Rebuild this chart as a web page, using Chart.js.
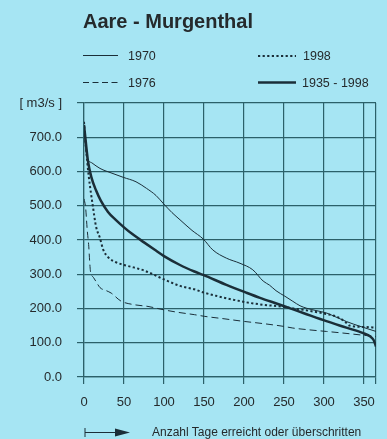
<!DOCTYPE html>
<html>
<head>
<meta charset="utf-8">
<script src="https://cdn.jsdelivr.net/npm/chart.js@4/dist/chart.umd.min.js"></script>
<style>
  html, body { margin: 0; padding: 0; }
  body { width: 387px; height: 439px; background: #a6e5f3; position: relative; overflow: hidden;
         font-family: "Liberation Sans", Arial, sans-serif; color: #252a2c; }
  #c { position: absolute; left: 0; top: 0; }
  .t { position: absolute; white-space: nowrap; }
  #title { left: 83px; top: 11px; font-size: 20px; line-height: 20px; font-weight: bold; }
  .lg { font-size: 12.5px; line-height: 12.5px; }
  #cap { left: 152px; top: 426px; font-size: 12px; line-height: 12px; }
  svg { position: absolute; left: 0; top: 0; }
</style>
</head>
<body>
<canvas id="c" width="387" height="439"></canvas>
<div class="t" id="title">Aare - Murgenthal</div>
<div class="t lg" style="left:128px;top:49.5px">1970</div>
<div class="t lg" style="left:303px;top:49.5px">1998</div>
<div class="t lg" style="left:128px;top:77px">1976</div>
<div class="t lg" style="left:302px;top:77px">1935 - 1998</div>
<div class="t" id="cap">Anzahl Tage erreicht oder überschritten</div>
<svg width="387" height="439">
  <line x1="83" y1="55.5" x2="118" y2="55.5" stroke="#1b2e38" stroke-width="1"/>
  <line x1="83" y1="82.5" x2="118" y2="82.5" stroke="#1b2e38" stroke-width="1" stroke-dasharray="6,3.5"/>
  <line x1="258" y1="56" x2="296" y2="56" stroke="#1b2e38" stroke-width="2" stroke-dasharray="2.2,2.4"/>
  <line x1="258" y1="82.5" x2="296" y2="82.5" stroke="#1b2e38" stroke-width="2.5"/>
  <line x1="85" y1="428" x2="85" y2="437" stroke="#1b2e38" stroke-width="1"/>
  <line x1="85" y1="432.5" x2="116" y2="432.5" stroke="#1b2e38" stroke-width="1"/>
  <polygon points="115,428.5 130,432.5 115,436.5" fill="#1b2e38"/>
</svg>
<script>
// Values
const days1970 = [0, 2, 4, 10, 20, 35, 49, 65, 78, 90, 99, 110, 120, 135, 149, 161, 178, 195, 211, 224, 232, 240, 251, 261, 270, 278, 290, 303, 315, 328, 345, 365];
const flow1970 = [720, 670, 640, 625, 609, 595, 583, 570, 551, 530, 507, 480, 459, 428, 403, 371, 347, 332, 313, 280, 268, 252, 236, 221, 208, 201, 194, 187, 175, 162, 148, 133];

const days1976 = [0, 2, 4, 6, 7, 8, 9, 12, 16, 20, 28, 34, 46, 63, 80, 100, 117, 138, 151, 175, 201, 220, 249, 261, 280, 303, 325, 345, 365];
const flow1976 = [520, 495, 430, 380, 340, 310, 300, 290, 275, 261, 252, 245, 222, 211, 206, 196, 189, 182, 177, 170, 162, 157, 148, 143, 138, 133, 128, 123, 118];

const days1998 = [0, 2, 6, 11, 15, 20, 24, 30, 40, 50, 62, 75, 88, 100, 120, 138, 149, 165, 178, 203, 220, 241, 249, 262, 274, 282, 303, 316, 326, 332, 353, 365];
const flow1998 = [745, 680, 585, 500, 440, 405, 372, 350, 335, 327, 320, 311, 298, 285, 266, 256, 247, 237, 230, 218, 212, 207, 205, 200, 196, 193, 184, 176, 162, 150, 146, 144];

const daysAll = [0, 2, 5, 9, 15, 21, 30, 40, 50, 60, 75, 88, 100, 120, 138, 149, 178, 203, 220, 245, 257, 274, 303, 328, 349, 358, 362, 365];
const flowAll = [736, 692, 630, 585, 545, 515, 482, 458, 437, 418, 393, 372, 353, 327, 308, 298, 269, 246, 231, 211, 201, 187, 163, 144, 128, 118, 108, 89];

const seriesNames = ['1970', '1976', '1998', '1935 - 1998'];
const xTickValues = [0, 50, 100, 150, 200, 250, 300, 350, 365];
const yUnitLabel = '[ m3/s ]';

const ink = '#1b2e38';
const gridCol = '#2b6069';
const pts = (xs, ys) => xs.map((x, i) => ({ x: x, y: ys[i] }));

new Chart(document.getElementById('c'), {
  type: 'line',
  data: {
    datasets: [
      { label: seriesNames[0], data: pts(days1970, flow1970), borderColor: ink, borderWidth: 1, pointRadius: 0, cubicInterpolationMode: 'monotone' },
      { label: seriesNames[1], data: pts(days1976, flow1976), borderColor: ink, borderWidth: 1, borderDash: [7, 4], pointRadius: 0, cubicInterpolationMode: 'monotone' },
      { label: seriesNames[2], data: pts(days1998, flow1998), borderColor: ink, borderWidth: 2, borderDash: [2.2, 2.4], pointRadius: 0, cubicInterpolationMode: 'monotone' },
      { label: seriesNames[3], data: pts(daysAll, flowAll), borderColor: ink, borderWidth: 2.5, pointRadius: 0, cubicInterpolationMode: 'monotone' }
    ]
  },
  options: {
    responsive: false,
    animation: false,
    events: [],
    layout: { padding: { top: 103, right: 11, left: 0, bottom: 0 } },
    plugins: { legend: { display: false }, title: { display: false }, tooltip: { enabled: false } },
    scales: {
      x: {
        type: 'linear', min: 0, max: 365,
        afterBuildTicks: (s) => { s.ticks = xTickValues.map(v => ({ value: v })); },
        afterFit: (s) => { s.height = 62; },
        grid: { color: gridCol, lineWidth: 1.2, tickLength: 7, drawTicks: true },
        border: { display: true, color: gridCol, width: 1.2 },
        ticks: {
          autoSkip: false, maxRotation: 0, padding: 11, color: '#252a2c',
          font: { family: '"Liberation Sans", Arial, sans-serif', size: 13 },
          callback: (v) => (v === 365 ? '' : String(v))
        }
      },
      y: {
        type: 'linear', min: 0, max: 800,
        afterFit: (s) => { s.width = 84; },
        grid: { color: gridCol, lineWidth: 1.2, tickLength: 7, drawTicks: true },
        border: { display: true, color: gridCol, width: 1.2 },
        ticks: {
          stepSize: 100, padding: 15, color: '#252a2c',
          font: { family: '"Liberation Sans", Arial, sans-serif', size: 13 },
          callback: (v) => (v === 800 ? yUnitLabel : Number(v).toFixed(1))
        }
      }
    }
  }
});
</script>
</body>
</html>
